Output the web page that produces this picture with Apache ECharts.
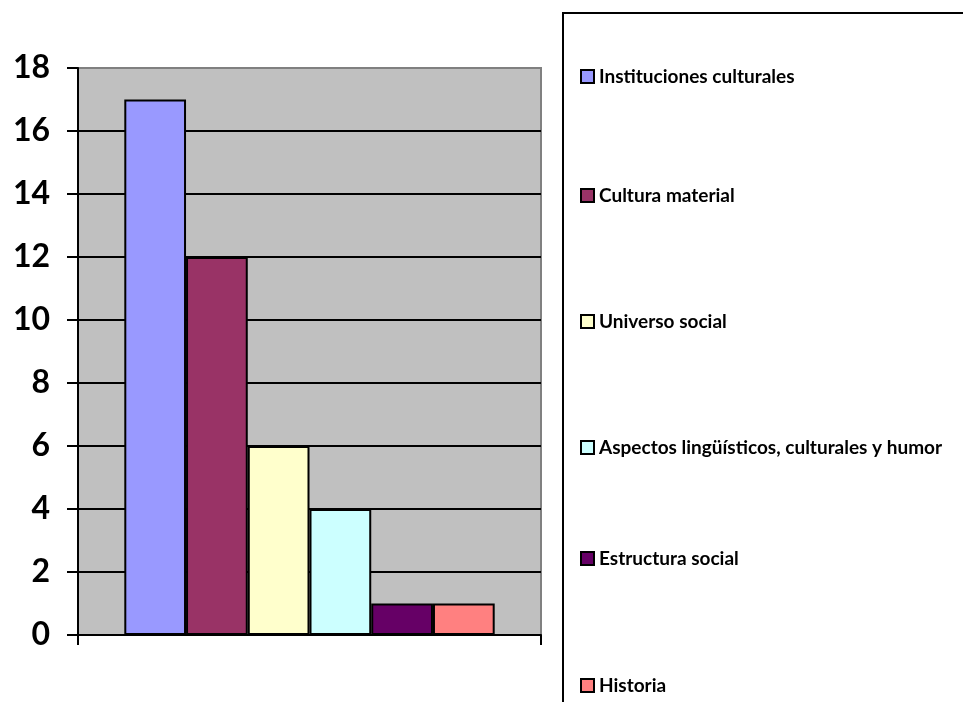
<!DOCTYPE html>
<html>
<head>
<meta charset="utf-8">
<script src="https://cdn.jsdelivr.net/npm/echarts@6/dist/echarts.min.js"></script>
<style>
  html, body { margin: 0; padding: 0; background: #fff; }
  #chart { width: 963px; height: 702px; }
</style>
</head>
<body>
<div id="chart"></div>
<script>
var categories = [''];
var seriesNames = ['Instituciones culturales', 'Cultura material', 'Universo social',
  'Aspectos lingüísticos, culturales y humor', 'Estructura social', 'Historia'];
var seriesValues = [17, 12, 6, 4, 1, 1];
var seriesColors = ['#9999FF', '#993366', '#FFFFCC', '#CCFFFF', '#660066', '#FF8080'];
// vertical centre of each legend entry in the original
var legendRows = [75, 194, 320, 446, 557, 684];

var myChart = echarts.init(document.getElementById('chart'));

var series = seriesNames.map(function (name, i) {
    return {
        name: name,
        type: 'bar',
        data: [seriesValues[i]],
        barGap: '0%',
        barCategoryGap: '20%',
        itemStyle: {
            color: seriesColors[i],
            borderColor: '#000',
            borderWidth: 2
        }
    };
});

var legends = seriesNames.map(function (name, i) {
    return {
        orient: 'vertical',
        left: 580,
        top: legendRows[i] - 8,
        padding: 0,
        itemWidth: 13,
        itemHeight: 13,
        icon: 'rect',
        data: [name],
        textStyle: {
            fontFamily: 'Lato',
            fontWeight: 'bold',
            fontSize: 19,
            lineHeight: 16,
            color: '#000'
        }
    };
});

var option = {
    animation: false,
    grid: {
        left: 78,
        right: 422,
        top: 68,
        bottom: 67,
        show: true,
        backgroundColor: '#C0C0C0',
        borderColor: '#808080',
        borderWidth: 2
    },
    graphic: [{
        type: 'rect',
        shape: { x: 563, y: 13, width: 500, height: 800 },
        style: { fill: 'none', stroke: '#000', lineWidth: 2 },
        z: 10
    }],
    legend: legends,
    xAxis: {
        type: 'category',
        data: categories,
        axisLine: { lineStyle: { color: '#000', width: 2 } },
        axisTick: { show: true, length: 10, lineStyle: { color: '#000', width: 2 } },
        axisLabel: { show: false }
    },
    yAxis: {
        type: 'value',
        min: 0,
        max: 18,
        interval: 2,
        axisLine: { show: true, lineStyle: { color: '#000', width: 2 } },
        axisTick: { show: true, length: 11, lineStyle: { color: '#000', width: 2 } },
        axisLabel: {
            margin: 28,
            fontFamily: 'Lato',
            fontWeight: 'bold',
            fontSize: 32,
            color: '#000'
        },
        splitLine: {
            show: true,
            lineStyle: {
                color: ['#000', '#000', '#000', '#000', '#000', '#000', '#000', '#000', '#000', '#808080'],
                width: 2
            }
        }
    },
    series: series
};

myChart.setOption(option);
</script>
</body>
</html>
